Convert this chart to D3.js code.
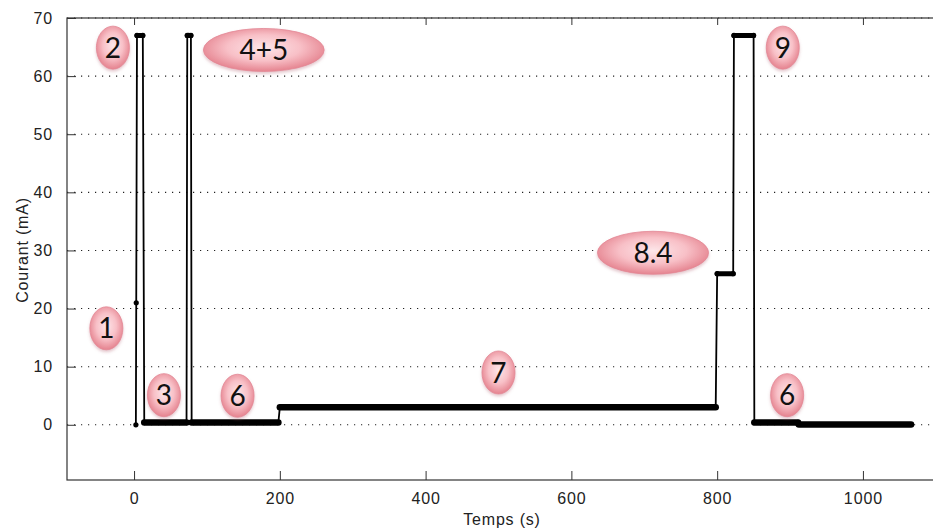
<!DOCTYPE html>
<html><head><meta charset="utf-8">
<script src="https://cdn.jsdelivr.net/npm/d3@7"></script>
<style>body{margin:0;background:#fff}svg{display:block}</style>
</head><body>
<script>
// ---- data ----
const times   = [2.5, 3, 4, 12, 14, 72, 73, 75, 78, 79, 198, 200, 798, 800, 822, 823, 850, 851, 911, 912, 1066];
const current = [0, 21, 67, 67, 0.4, 0.4, 67, 67, 67, 0.4, 0.4, 3, 3, 26, 26, 67, 67, 0.4, 0.4, 0.05, 0.05];
const xTicks = [0, 200, 400, 600, 800, 1000];
const yTicks = [0, 10, 20, 30, 40, 50, 60, 70];
const badgeText = ["1", "2", "3", "4+5", "6", "7", "8.4", "9", "6"];
const badgeT    = [-38, -29, 41, 178, 142, 500, 712, 890, 896];   // time position of badge centre
const badgeI    = [16.6, 64.9, 5.1, 64.5, 5.0, 9.0, 29.6, 64.9, 5.1]; // current position of badge centre
const xLabel = "Temps (s)", yLabel = "Courant (mA)";

const W = 933, H = 532;
const svg = d3.select("body").append("svg").attr("width", W).attr("height", H);
const x = d3.scaleLinear().domain([-92, 1097.5]).range([67, 934]);
const y = d3.scaleLinear().domain([-9.5, 70]).range([480, 18]);

const defs = svg.append("defs");
const g = defs.append("radialGradient").attr("id", "pink").attr("cx", "50%").attr("cy", "45%").attr("r", "55%");
g.append("stop").attr("offset", "0%").attr("stop-color", "#fde6e9");
g.append("stop").attr("offset", "55%").attr("stop-color", "#f8c0c7");
g.append("stop").attr("offset", "100%").attr("stop-color", "#e5838f");
const f = defs.append("filter").attr("id", "sh").attr("x", "-20%").attr("y", "-20%").attr("width", "140%").attr("height", "150%");
f.append("feDropShadow").attr("dx", 0).attr("dy", 2).attr("stdDeviation", 1.5).attr("flood-color", "#b06070").attr("flood-opacity", 0.35);

// grid
svg.append("g").selectAll("line").data(yTicks).join("line")
  .attr("x1", x.range()[0]).attr("x2", x.range()[1])
  .attr("y1", d => y(d)).attr("y2", d => y(d))
  .attr("stroke", "#222").attr("stroke-width", 1.1).attr("stroke-dasharray", "1.2,5.8");

// frame
svg.append("rect").attr("x", 67).attr("y", 18).attr("width", 934 - 67).attr("height", 480 - 18)
  .attr("fill", "none").attr("stroke", "#333").attr("stroke-width", 1.2);

const tickFont = "'Liberation Sans', Arial, sans-serif";
// x axis (ticks inward)
const xa = d3.axisBottom(x).tickValues(xTicks).tickFormat(d3.format("d")).tickSizeInner(-9).tickSizeOuter(0).tickPadding(13);
const gx = svg.append("g").attr("transform", "translate(0,480)").call(xa);
gx.select(".domain").remove();
gx.selectAll("line").attr("stroke", "#333");
gx.selectAll("text").attr("font-family", tickFont).attr("font-size", 16).attr("letter-spacing", 0.9).attr("fill", "#222");
const xt = d3.axisTop(x).tickValues(xTicks).tickSizeInner(-7).tickSizeOuter(0).tickFormat("");
const gxt = svg.append("g").attr("transform", "translate(0,18)").call(xt);
gxt.select(".domain").remove(); gxt.selectAll("line").attr("stroke", "#333");

const ya = d3.axisLeft(y).tickValues(yTicks).tickSizeInner(-9).tickSizeOuter(0).tickPadding(14);
const gy = svg.append("g").attr("transform", "translate(67,0)").call(ya);
gy.select(".domain").remove();
gy.selectAll("line").attr("stroke", "#333");
gy.selectAll("text").attr("font-family", tickFont).attr("font-size", 16).attr("letter-spacing", 0.9).attr("fill", "#222");

svg.append("text").attr("x", 502).attr("y", 525).attr("text-anchor", "middle")
  .attr("font-family", tickFont).attr("font-size", 16).attr("letter-spacing", 0.8).attr("fill", "#222").text(xLabel);
svg.append("text").attr("transform", "translate(28,250) rotate(-90)").attr("text-anchor", "middle")
  .attr("font-family", tickFont).attr("font-size", 16).attr("letter-spacing", 0.8).attr("fill", "#222").text(yLabel);

// data
const pts = times.map((t, i) => [t, current[i]]);
const plot = svg.append("g");
// thick plateaus (dense samples)
const plateaus = [];
for (let i = 0; i < pts.length - 1; i++) if (pts[i][1] === pts[i + 1][1]) plateaus.push([pts[i], pts[i + 1]]);
plot.selectAll("line.pl").data(plateaus).join("line").attr("class", "pl")
  .attr("x1", d => x(d[0][0])).attr("x2", d => x(d[1][0]))
  .attr("y1", d => y(d[0][1])).attr("y2", d => y(d[1][1]))
  .attr("stroke", "#000").attr("stroke-width", d => d[0][1] > 20 ? 5 : 6.5).attr("stroke-linecap", "round");
plot.append("path").datum(pts)
  .attr("d", d3.line().x(d => x(d[0])).y(d => y(d[1])))
  .attr("fill", "none").attr("stroke", "#000").attr("stroke-width", 1.8);
plot.selectAll("circle").data(pts).join("circle")
  .attr("cx", d => x(d[0])).attr("cy", d => y(d[1])).attr("r", 2.6).attr("fill", "#000");

// badges
const bg = svg.append("g").selectAll("g").data(badgeText).join("g")
  .attr("transform", (d, i) => `translate(${x(badgeT[i])},${y(badgeI[i])})`);
const el = bg.append("ellipse").attr("ry", 21.5)
  .attr("fill", "url(#pink)").attr("stroke", "#e38896").attr("stroke-width", 0.8).attr("filter", "url(#sh)");
const tx = bg.append("text").attr("text-anchor", "middle").attr("dy", "0.36em")
  .attr("font-family", "Lato, 'Open Sans', sans-serif").attr("font-size", 28).attr("fill", "#111").text(d => d);
tx.each(function (d, i) {
  const w = this.getComputedTextLength();
  d3.select(el.nodes()[i]).attr("rx", d.length > 1 ? w / 2 + 36 : 16.5);
});
</script>
</body></html>
